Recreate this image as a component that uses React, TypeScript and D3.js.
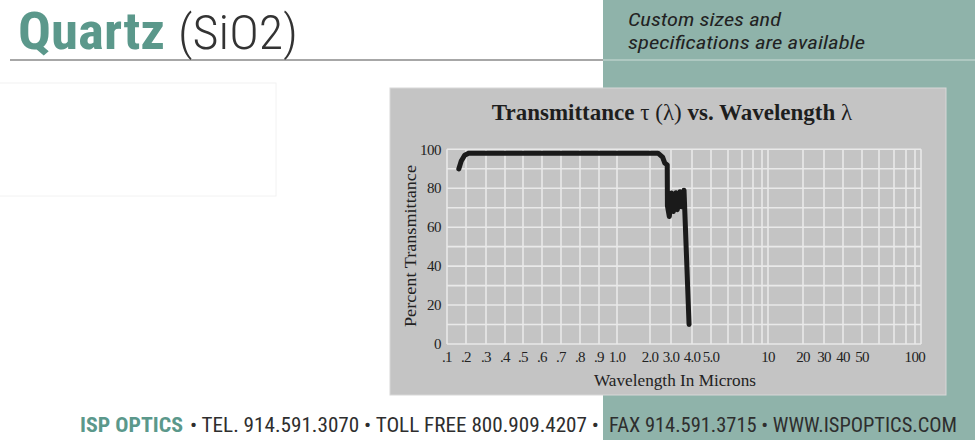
import React from "react";
import * as d3 from "d3";

// ---- data ----
const gridWavelengths = [0.1, 0.2, 0.3, 0.4, 0.5, 0.6, 0.7, 0.8, 0.9, 1.0, 2, 3, 4, 5, 6, 7, 8, 9, 10, 20, 30, 40, 50, 60, 70, 80, 90, 100];
const xTickValues = [0.1, 0.2, 0.3, 0.4, 0.5, 0.6, 0.7, 0.8, 0.9, 1.0, 2, 3, 4, 5, 10, 20, 30, 40, 50, 100];
const xTickLabels = [".1", ".2", ".3", ".4", ".5", ".6", ".7", ".8", ".9", "1.0", "2.0", "3.0", "4.0", "5.0", "10", "20", "30", "40", "50", "100"];
const yTickValues = [0, 20, 40, 60, 80, 100];
const yGridValues = [0, 10, 20, 30, 40, 50, 60, 70, 80, 90, 100];

const wavelength = [0.162, 0.175, 0.193, 0.213, 0.3, 1.0, 2.0, 2.38, 2.6, 2.7, 2.82, 2.83, 2.92, 3.03, 3.11, 3.24, 3.3, 3.43, 3.51, 3.59, 3.62, 3.86];
const transmittance = [89.9, 94, 97, 98, 98, 98, 98, 98, 96, 93, 92, 71, 65.5, 77.5, 68, 77.7, 69, 78.2, 70.5, 74, 79, 10];

const footerParts = ["• TEL. 914.591.3070 • TOLL FREE 800.909.4207 •", "FAX 914.591.3715 • WWW.ISPOPTICS.COM"];

// hand-drawn, non-uniform axis of the original graphic: relative stops (px from plot left)
const axisStops = [0, 19, 39, 58, 76, 95, 114, 133, 152, 170, 203, 224, 245, 264, 281, 295, 306, 315, 321, 356, 377, 396, 415, 432, 447, 459, 468, 474];

const TEAL_PANEL = "#8fb3aa";
const TEAL_TEXT = "#5b988b";
const GRAY_PANEL = "#c4c4c4";
const GRID = "#e9e9e9";
const SERIF = "'Liberation Serif', 'DejaVu Serif', serif";
const SANS = "'Liberation Sans', 'Roboto', sans-serif";
const NARROW = "'Liberation Sans Narrow', 'Roboto Condensed', 'Liberation Sans', sans-serif";

export default function App() {
  const plot = { left: 447, top: 149.3, bottom: 344 };
  const x = d3.scaleLinear().domain(gridWavelengths).range(axisStops.map((d) => plot.left + d));
  const y = d3.scaleLinear().domain([0, 100]).range([plot.bottom, plot.top]);
  const right = x(100);
  const pts = wavelength.map((w, i) => [w, transmittance[i]] as [number, number]);
  const line = d3.line<[number, number]>().x((d) => x(d[0])).y((d) => y(d[1])).curve(d3.curveLinear);

  return (
    <svg width={975} height={440} style={{ position: "absolute", left: 0, top: 0 }} xmlns="http://www.w3.org/2000/svg">
      <rect x={0} y={0} width={975} height={440} fill="#ffffff" />
      {/* teal right band */}
      <rect x={603} y={0} width={372} height={440} fill={TEAL_PANEL} />
      {/* header rule */}
      <line x1={10} x2={603} y1={60} y2={60} stroke="#8a8a8a" strokeWidth={1.5} />
      <line x1={603} x2={975} y1={60} y2={60} stroke="#b9cfc9" strokeWidth={1.5} />
      {/* header texts */}
      <text x={18} y={49} fontFamily={NARROW} fontWeight="bold" fontSize={52} fill={TEAL_TEXT} textLength={147} lengthAdjust="spacingAndGlyphs">Quartz</text>
      <text x={178} y={49} fontFamily={NARROW} fontWeight={300} fontSize={48} fill="#333" textLength={120} lengthAdjust="spacingAndGlyphs">(SiO2)</text>
      <text x={628} y={26} fontFamily={NARROW} fontStyle="italic" fontSize={18} fill="#222" textLength={153} lengthAdjust="spacingAndGlyphs">Custom sizes and</text>
      <text x={628} y={49} fontFamily={NARROW} fontStyle="italic" fontSize={18} fill="#222" textLength={237} lengthAdjust="spacingAndGlyphs">specifications are available</text>
      {/* faint white box at left */}
      <rect x={-1} y={83} width={277} height={113} fill="#ffffff" stroke="#f2f2f2" strokeWidth={1} />
      {/* chart panel */}
      <rect x={390} y={88} width={556} height={307} fill={GRAY_PANEL} stroke="#d8d8d8" strokeWidth={1} />
      <text x={672} y={120} textAnchor="middle" fontFamily={SERIF} fontSize={23} fill="#1e1e1e">
        <tspan fontWeight="bold">Transmittance </tspan>
        <tspan>τ (λ)  </tspan>
        <tspan fontWeight="bold">vs. Wavelength </tspan>
        <tspan>λ</tspan>
      </text>
      {/* grid */}
      <g>
        {yGridValues.map((v) => (
          <line key={"h" + v} x1={plot.left} x2={right} y1={y(v)} y2={y(v)} stroke={GRID} strokeWidth={1.6} />
        ))}
        {gridWavelengths.map((v) => (
          <line key={"v" + v} x1={x(v)} x2={x(v)} y1={plot.top} y2={plot.bottom} stroke={GRID} strokeWidth={1.6} />
        ))}
      </g>
      {/* y ticks */}
      {yTickValues.map((v) => (
        <text key={"yt" + v} x={441} y={y(v)} dy="0.35em" textAnchor="end" fontFamily={SERIF} fontSize={15} fill="#222" letterSpacing={-0.5}>{v}</text>
      ))}
      {/* x ticks */}
      {xTickValues.map((v, i) => (
        <text key={"xt" + v} x={v === 100 ? x(v) + 4 : x(v)} y={362} textAnchor={v === 100 ? "end" : "middle"} fontFamily={SERIF} fontSize={15} fill="#222" letterSpacing={-0.7}>{xTickLabels[i]}</text>
      ))}
      <text x={675} y={386} textAnchor="middle" fontFamily={SERIF} fontSize={17} fill="#222" textLength={162} lengthAdjust="spacingAndGlyphs">Wavelength In Microns</text>
      <text transform={`translate(416,246) rotate(-90)`} textAnchor="middle" fontFamily={SERIF} fontSize={16} fill="#222" textLength={162} lengthAdjust="spacingAndGlyphs">Percent Transmittance</text>
      {/* curve */}
      <path d={line(pts) || ""} fill="none" stroke="#1a1a1a" strokeWidth={5} strokeLinejoin="round" strokeLinecap="round" />
      {/* footer */}
      <text x={80} y={432} fontFamily={NARROW} fontWeight="bold" fontSize={20} fill={TEAL_TEXT} textLength={103} lengthAdjust="spacingAndGlyphs">ISP OPTICS</text>
      <text x={190} y={432} fontFamily={NARROW} fontSize={20} fill="#2e2e2e" textLength={409} lengthAdjust="spacingAndGlyphs">{footerParts[0]}</text>
      <text x={609} y={432} fontFamily={NARROW} fontSize={20} fill="#2e2e2e" textLength={348} lengthAdjust="spacingAndGlyphs">{footerParts[1]}</text>
    </svg>
  );
}
